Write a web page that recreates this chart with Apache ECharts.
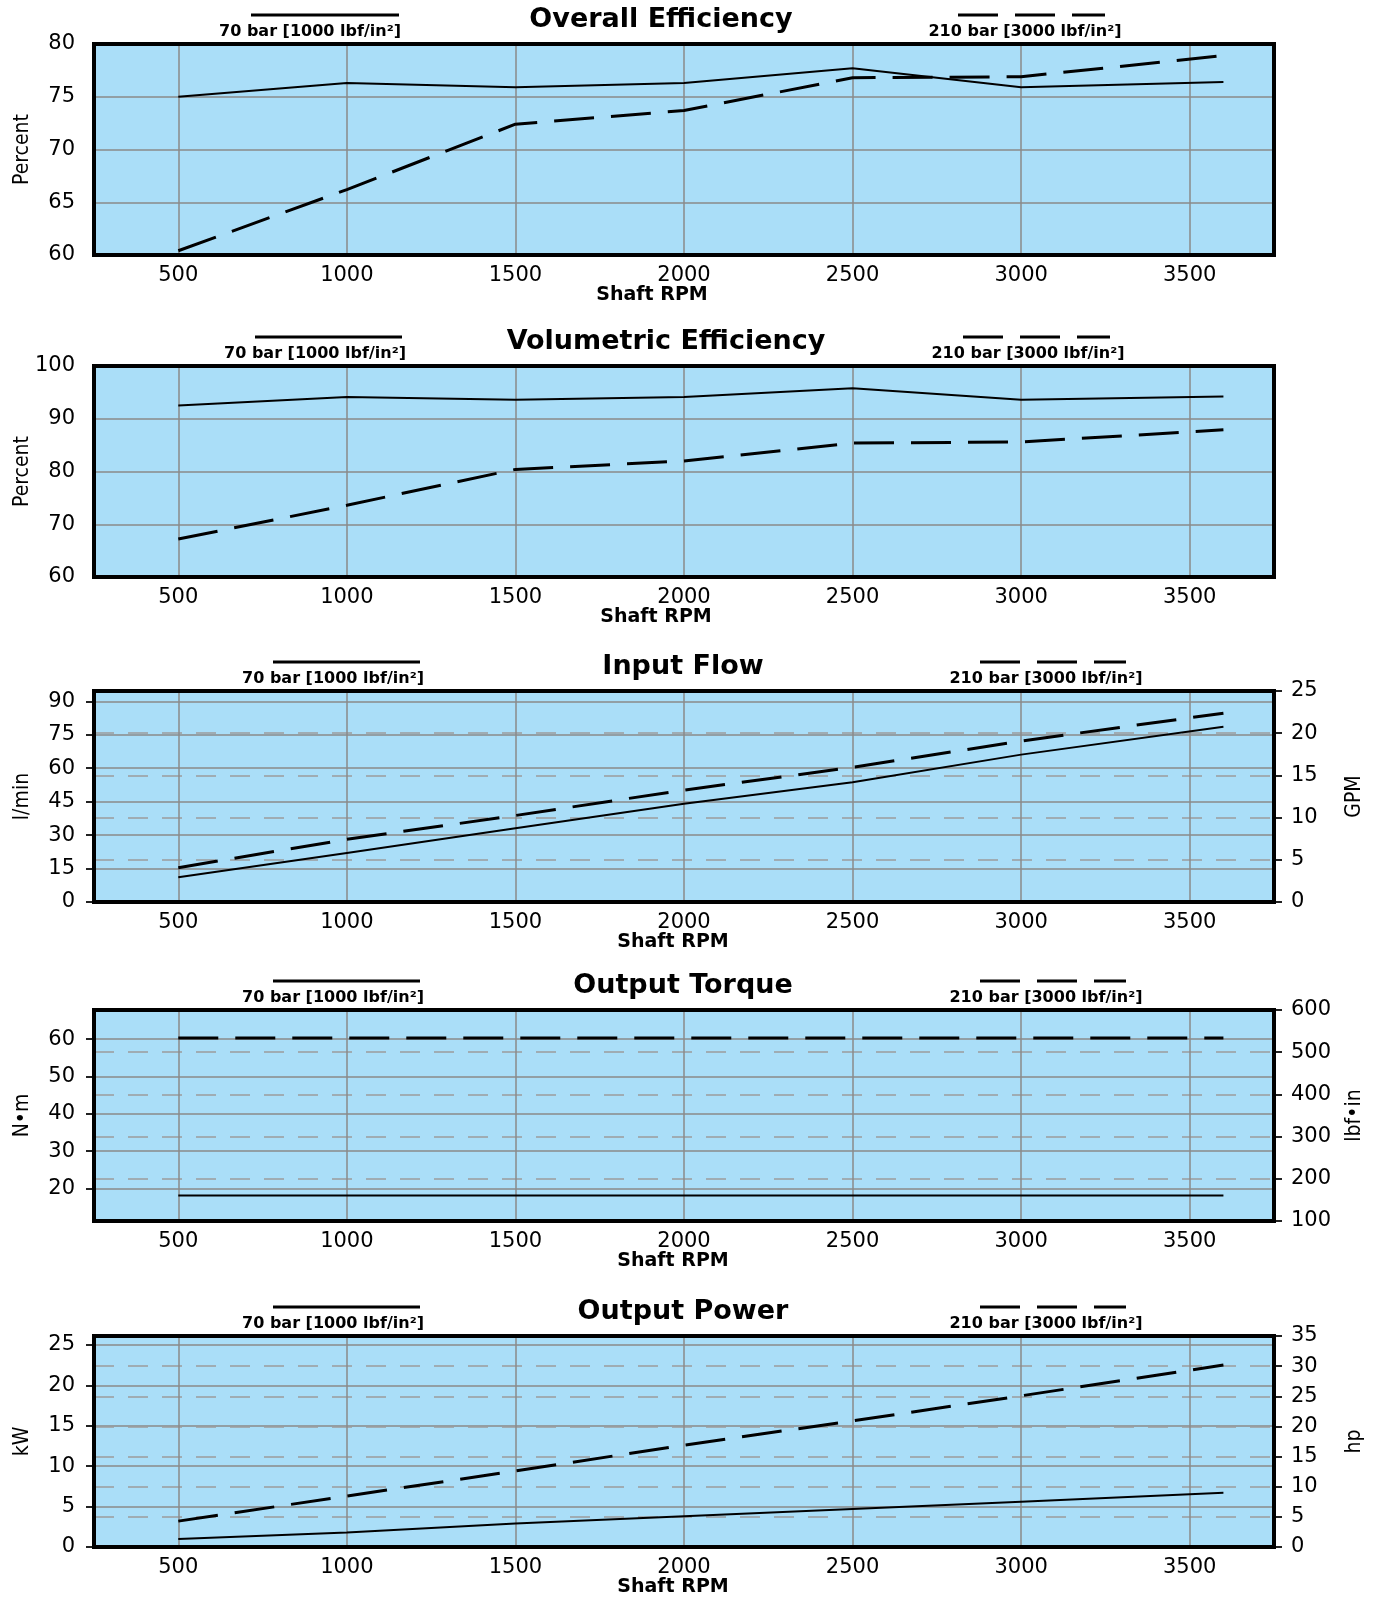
<!DOCTYPE html>
<html>
<head>
<meta charset="utf-8">
<script src="https://cdn.jsdelivr.net/npm/echarts@6/dist/echarts.min.js"></script>
<style>
html,body{margin:0;padding:0;background:#ffffff;}
#c{width:1380px;height:1597px;}
</style>
</head>
<body>
<div id="c"></div>
<script>
// ---------- data ----------
const rpm = [500, 1000, 1500, 2000, 2500, 3000, 3600];
const xTickLabels = [500, 1000, 1500, 2000, 2500, 3000, 3500];

const overall70  = [75.0, 76.3, 75.9, 76.3, 77.7, 75.9, 76.4];
const overall210 = [60.4, 66.2, 72.4, 73.7, 76.8, 76.9, 78.9];

const vol70  = [92.5, 94.1, 93.6, 94.1, 95.8, 93.6, 94.2];
const vol210 = [67.2, 73.6, 80.4, 82.0, 85.4, 85.6, 87.9];

const flow70  = [11.1, 22.0, 33.1, 44.1, 53.7, 66.1, 78.6];
const flow210 = [15.4, 28.1, 38.8, 50.2, 60.4, 72.2, 84.7];

const torque70  = [18.1, 18.1, 18.1, 18.1, 18.1, 18.1, 18.1];
const torque210 = [60.3, 60.3, 60.3, 60.3, 60.3, 60.3, 60.3];

const power70  = [1.0, 1.8, 2.9, 3.8, 4.7, 5.6, 6.7];
const power210 = [3.2, 6.3, 9.4, 12.6, 15.6, 18.7, 22.5];

const titles = ['Overall Efficiency', 'Volumetric Efficiency', 'Input Flow', 'Output Torque', 'Output Power'];
const legendLabels = ['70 bar [1000 lbf/in\u00B2]', '210 bar [3000 lbf/in\u00B2]'];
const leftNames  = ['Percent', 'Percent', 'l/min', 'N\u2022m', 'kW'];
const rightNames = [null, null, 'GPM', 'lbf\u2022in', 'hp'];

// unit conversions between the paired axes
const L_PER_GAL = 3.785411784;
const NM_PER_LBFIN = 0.112984829;
const KW_PER_HP = 0.745699872;

// axis ranges
const leftAxes = [
  {min: 60, max: 80, interval: 5, step: 5},
  {min: 60, max: 100, interval: 10, step: 10},
  {min: 0, max: 25 * L_PER_GAL, interval: 15, step: 15, ticks: [0, 15, 30, 45, 60, 75, 90]},
  {min: 100 * NM_PER_LBFIN, max: 600 * NM_PER_LBFIN, step: 10, ticks: [20, 30, 40, 50, 60]},
  {min: 0, max: 35 * KW_PER_HP, interval: 5, step: 5, ticks: [0, 5, 10, 15, 20, 25]}
];
const rightAxes = [null, null,
  {min: 0, max: 25, interval: 5},
  {min: 100, max: 600, interval: 100},
  {min: 0, max: 35, interval: 5}
];
const seriesPairs = [
  [overall70, overall210],
  [vol70, vol210],
  [flow70, flow210],
  [torque70, torque210],
  [power70, power210]
];

// ---------- layout / style ----------
const W = 1380;
const LEFT = 94, PLOT_W = 1180, PLOT_H = 211;
const TOPS = [44, 366, 691, 1010, 1336];
const TITLE_X = [661, 666, 683, 683, 683];
const LEG_SOLID = [[251, 399, 310], [255, 402, 315], [273, 420, 333], [273, 420, 333], [273, 420, 333]];
const LEG_DASH = [[958, 1105, 1025], [963, 1110, 1028], [980, 1126, 1046], [980, 1126, 1046], [980, 1126, 1046]];
const XNAME_SHIFT = [32, 28, 11, 11, 11];

const BLUE = '#aadef8';
const GRIDC = '#8a8a8a';
const DASHGRIDC = '#9c9c9c';
const FONT = "'DejaVu Sans', 'Liberation Sans', sans-serif";
const NARROW = "'Liberation Sans Narrow', 'DejaVu Sans Condensed', 'Liberation Sans', sans-serif";
const DASH = [40, 17];

function multipleFormatter(step) {
  return function (v) {
    const r = v / step;
    return Math.abs(r - Math.round(r)) < 1e-6 ? String(Math.round(v)) : '';
  };
}

const grid = [], xAxis = [], yAxis = [], series = [], graphic = [];

for (let i = 0; i < 5; i++) {
  grid.push({
    left: LEFT, top: TOPS[i], width: PLOT_W, height: PLOT_H,
    show: true, backgroundColor: BLUE, borderWidth: 0,
    containLabel: false, outerBoundsMode: 'none'
  });

  xAxis.push({
    type: 'value', gridIndex: i, min: 250, max: 3750, splitNumber: 7,
    axisLine: {show: false}, axisTick: {show: false},
    axisLabel: {
      margin: 10, fontSize: 21, fontFamily: FONT, color: '#000',
      formatter: function (v) { return xTickLabels.indexOf(v) >= 0 ? String(v) : ''; }
    },
    splitLine: {show: true, lineStyle: {color: GRIDC, width: 1.5}},
    name: 'Shaft RPM', nameLocation: 'middle', nameGap: 31, nameMoveOverlap: false,
    nameTextStyle: {
      fontFamily: FONT, fontWeight: 'bold', fontSize: 19, color: '#000',
      padding: [0, XNAME_SHIFT[i] * 2, 0, 0]
    }
  });

  const la = leftAxes[i];
  const left = {
    type: 'value', gridIndex: i, position: 'left', min: la.min, max: la.max,
    axisLine: {show: false},
    axisTick: {show: i >= 2, length: 8, lineStyle: {color: '#222', width: 2}},
    axisLabel: {margin: 19, fontSize: 21, fontFamily: FONT, color: '#000', formatter: multipleFormatter(la.step)},
    splitLine: {show: true, lineStyle: {color: GRIDC, width: 1.5}},
    name: leftNames[i], nameLocation: 'middle', nameGap: 61, nameRotate: 90, nameMoveOverlap: false,
    nameTextStyle: {fontFamily: NARROW, fontSize: 21, color: '#000'}
  };
  if (la.interval !== undefined) left.interval = la.interval;
  else left.splitNumber = 5;
  if (la.ticks) left.axisTick.customValues = la.ticks;
  yAxis.push(left);
}

const leftIdx = [0, 1, 2, 3, 4];
for (let i = 0; i < 5; i++) {
  const ra = rightAxes[i];
  if (!ra) continue;
  yAxis.push({
    type: 'value', gridIndex: i, position: 'right', min: ra.min, max: ra.max, interval: ra.interval,
    alignTicks: false,
    axisLine: {show: false},
    axisTick: {show: true, length: 8, lineStyle: {color: '#222', width: 2}},
    axisLabel: {margin: 17, fontSize: 21, fontFamily: FONT, color: '#000'},
    splitLine: {show: true, lineStyle: {color: DASHGRIDC, width: 1.5, type: [20, 14]}},
    name: rightNames[i], nameLocation: 'middle', nameGap: 70, nameRotate: 90, nameMoveOverlap: false,
    nameTextStyle: {fontFamily: NARROW, fontSize: 21, color: '#000'}
  });
}

for (let i = 0; i < 5; i++) {
  const [s70, s210] = seriesPairs[i];
  series.push({
    name: legendLabels[0], type: 'line', xAxisIndex: i, yAxisIndex: leftIdx[i],
    data: rpm.map((x, k) => [x, s70[k]]),
    showSymbol: false, symbol: 'none', silent: true, z: 5,
    lineStyle: {color: '#000', width: 2}
  });
  series.push({
    name: legendLabels[1], type: 'line', xAxisIndex: i, yAxisIndex: leftIdx[i],
    data: rpm.map((x, k) => [x, s210[k]]),
    showSymbol: false, symbol: 'none', silent: true, z: 5,
    lineStyle: {color: '#000', width: 3, type: DASH}
  });

  // frame
  graphic.push({
    type: 'rect', z: 100, silent: true,
    shape: {x: LEFT, y: TOPS[i], width: PLOT_W, height: PLOT_H},
    style: {fill: null, stroke: '#000', lineWidth: 4}
  });
  // title
  graphic.push({
    type: 'text', z: 100, silent: true, x: TITLE_X[i], y: TOPS[i] - 24,
    style: {text: titles[i], fill: '#000', font: "bold 27px " + FONT, align: 'center', verticalAlign: 'middle'}
  });
  // legend: solid
  const ls = LEG_SOLID[i], ld = LEG_DASH[i];
  graphic.push({
    type: 'line', z: 100, silent: true,
    shape: {x1: ls[0], y1: TOPS[i] - 29, x2: ls[1], y2: TOPS[i] - 29},
    style: {stroke: '#000', lineWidth: 3}
  });
  graphic.push({
    type: 'text', z: 100, silent: true, x: ls[2], y: TOPS[i] - 12.5,
    style: {text: legendLabels[0], fill: '#000', font: "bold 16px " + FONT, align: 'center', verticalAlign: 'middle'}
  });
  graphic.push({
    type: 'line', z: 100, silent: true,
    shape: {x1: ld[0], y1: TOPS[i] - 29, x2: ld[1], y2: TOPS[i] - 29},
    style: {stroke: '#000', lineWidth: 3, lineDash: DASH}
  });
  graphic.push({
    type: 'text', z: 100, silent: true, x: ld[2], y: TOPS[i] - 12.5,
    style: {text: legendLabels[1], fill: '#000', font: "bold 16px " + FONT, align: 'center', verticalAlign: 'middle'}
  });
}

const chart = echarts.init(document.getElementById('c'), null, {renderer: 'canvas', width: W, height: 1597});
chart.setOption({
  animation: false,
  backgroundColor: '#ffffff',
  grid: grid,
  xAxis: xAxis,
  yAxis: yAxis,
  series: series,
  graphic: graphic
});
</script>
</body>
</html>
